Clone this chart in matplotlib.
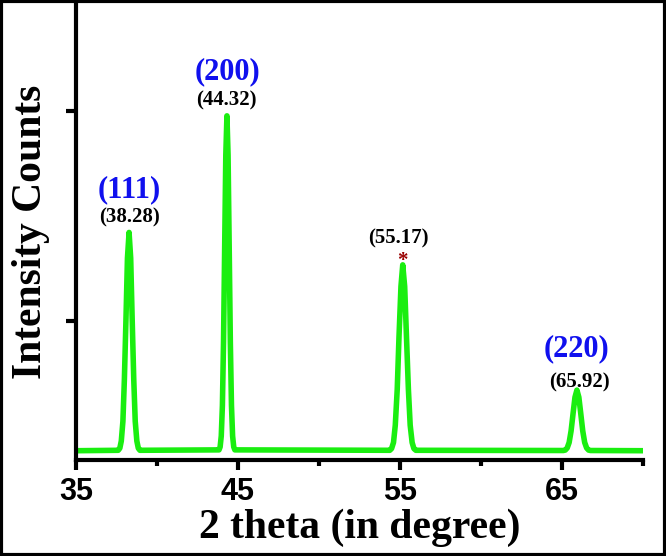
import matplotlib
matplotlib.use("Agg")
import matplotlib.pyplot as plt
from matplotlib.patches import Rectangle

# XRD trace points (2theta, intensity counts)
two_theta = [35.0,
             37.61, 37.71, 37.80, 37.90, 37.99, 38.09, 38.18, 38.28,
             38.38, 38.47, 38.57, 38.66, 38.76, 38.85, 38.95,
             43.83, 43.90, 43.97, 44.04, 44.11, 44.18, 44.25, 44.32,
             44.39, 44.46, 44.53, 44.60, 44.67, 44.74, 44.81,
             54.37, 54.48, 54.60, 54.71, 54.83, 54.94, 55.06, 55.17,
             55.29, 55.40, 55.52, 55.63, 55.75, 55.86, 55.98,
             65.08, 65.20, 65.32, 65.44, 65.56, 65.68, 65.80, 65.92,
             66.04, 66.16, 66.28, 66.40, 66.52, 66.64, 66.76,
             70.0]
intensity = [385,
             387, 397, 431, 525, 722, 1014, 1300, 1422,
             1300, 1014, 722, 525, 431, 397, 387,
             389, 403, 455, 600, 902, 1350, 1789, 1976,
             1789, 1350, 902, 600, 455, 403, 389,
             387, 395, 424, 506, 676, 928, 1165, 1268,
             1165, 928, 676, 506, 424, 395, 387,
             386, 388, 398, 424, 479, 560, 639, 673,
             639, 560, 479, 424, 398, 388, 386,
             385]

peak_labels = ["(38.28)", "(44.32)", "(55.17)", "(65.92)"]
hkl_labels = ["(111)", "(200)", "(220)"]

xticks_major = [35, 45, 55, 65]
xticks_minor = [40, 50, 60, 70]
yticks = [1000, 2000]

fig = plt.figure(figsize=(6.66, 5.56), dpi=100)
ax = fig.add_axes([0.114, 0.1727, 0.8515, 0.82])
ax.plot(two_theta, intensity, color="#1aee10", lw=4.0, solid_joinstyle="round",
        solid_capstyle="butt")

ax.set_xlim(35, 70)
ax.set_ylim(341, 2507)
ax.set_xticks(xticks_major)
ax.set_xticks(xticks_minor, minor=True)
ax.set_yticks(yticks)
ax.set_yticklabels([])
for s in ["top", "right"]:
    ax.spines[s].set_visible(False)
for s in ["left", "bottom"]:
    ax.spines[s].set_linewidth(3.0)
ax.tick_params(axis="both", which="major", direction="out", length=7, width=3)
ax.tick_params(axis="x", which="minor", direction="out", length=4, width=3)
for lab in ax.get_xticklabels():
    lab.set_fontfamily("Liberation Sans")
    lab.set_fontweight("bold")
    lab.set_fontsize(22)
ax.tick_params(axis="x", pad=5)

ax.set_xlabel("2 theta (in degree)", fontfamily="Liberation Serif",
              fontweight="bold", fontsize=30, labelpad=1)
ax.set_ylabel("Intensity Counts", fontfamily="Liberation Serif",
              fontweight="bold", fontsize=30, labelpad=8)

serif = dict(fontfamily="Liberation Serif", fontweight="bold", ha="center", va="center")
# peak position labels
ax.text(38.30, 1493, peak_labels[0], fontsize=15, color="black", **serif)
ax.text(44.26, 2047, peak_labels[1], fontsize=15, color="black", **serif)
ax.text(54.90, 1392, peak_labels[2], fontsize=15, color="black", **serif)
ax.text(66.05, 711, peak_labels[3], fontsize=15, color="black", **serif)
# hkl labels
ax.text(38.31, 1625, hkl_labels[0], fontsize=22, color="#1010ee", **serif)
ax.text(44.38, 2185, hkl_labels[1], fontsize=22, color="#1010ee", **serif)
ax.text(65.87, 870, hkl_labels[2], fontsize=22, color="#1010ee", **serif)
# asterisk
ax.text(55.12, 1288, "*", fontsize=15, color="#990000", **serif)

fig.patches.append(Rectangle((0.002, 0.002), 0.996, 0.996, transform=fig.transFigure,
                             fill=False, edgecolor="black", lw=3))

fig.savefig("out.png", dpi=100)
